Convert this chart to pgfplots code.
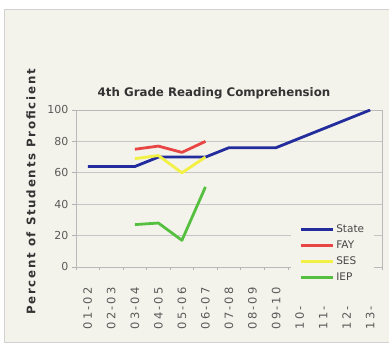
\documentclass[border=0pt]{standalone}
\usepackage{fontspec}
\setmainfont{DejaVu Sans}
\newfontfamily\tickfont[LetterSpace=18]{DejaVu Sans}
\newfontfamily\ylabfont[LetterSpace=15]{DejaVu Sans}
\usepackage{pgfplots}
\pgfplotsset{compat=1.18}
\definecolor{bg}{HTML}{F4F3EB}
\definecolor{cState}{HTML}{232C9C}
\definecolor{cFAY}{HTML}{E84545}
\definecolor{cSES}{HTML}{F2F045}
\definecolor{cIEP}{HTML}{55C040}
\definecolor{tick}{HTML}{5A5A5A}
\begin{document}
\begin{tikzpicture}[x=1pt,y=1pt]
\useasboundingbox (0,0) rectangle (389,344);
\fill[white] (0,0) rectangle (389,344);
\fill[bg] (4,2) rectangle (389,335);
\draw[gray!35, line width=0.8pt] (4,2) rectangle (392,335);
\node[font=\bfseries\fontsize{11.8}{13}\selectfont, text=black!80] at (214,251) {4th Grade Reading Comprehension};
\node[font=\ylabfont\bfseries\fontsize{11.8}{13}\selectfont, text=black!80, rotate=90] at (31,152) {Percent of Students Proficient};
\begin{axis}[
  at={(76pt,77pt)}, anchor=south west,
  scale only axis, width=306pt, height=157pt,
  xmin=-0.5, xmax=12.5, ymin=0, ymax=100,
  axis background/.style={fill=bg},
  axis line style={draw=gray!55, line width=0.8pt},
  ytick={0,20,...,100},
  ymajorgrids, grid style={draw=gray!45, line width=0.8pt},
  tick style={draw=gray!60, line width=0.6pt},
  ytick pos=left, xtick pos=bottom,
  tick align=outside,
  major tick length=4pt,
  yticklabel style={font=\fontsize{11}{12}\selectfont, text=tick},
  /pgf/number format/assume math mode=true,
  xtick={0,...,12},
  xticklabels={01-02,02-03,03-04,04-05,05-06,06-07,07-08,08-09,09-10,10-,11-,12-,13-},
  xticklabel style={font=\tickfont\fontsize{11.5}{12}\selectfont, text=tick, rotate=90, anchor=east, text width=46pt, align=left, inner sep=0pt},
  xticklabel shift=12pt,
  major x tick style={draw=none},
  minor xtick={-0.5,0.5,...,12.5},
  minor tick length=3pt,
  minor x tick style={draw=gray!60, line width=0.6pt},
  legend style={at={(0.703,0.31)}, anchor=north west, fill=bg, draw=none,
    font=\fontsize{10.5}{12}\selectfont, text=black!72,
    row sep=2.8pt, inner xsep=8pt, inner ysep=4pt},
  legend cell align=left,
  legend image code/.code={\draw[#1, line width=3pt] (0pt,0pt) -- (32pt,0pt);},
  every axis plot/.append style={line width=2.8pt, line join=round},
]
\addplot[cState] coordinates {(0,64) (1,64) (2,64) (3,70) (4,70) (5,70) (6,76) (7,76) (8,76) (9,82) (10,88) (11,94) (12,100)};
\addlegendentry{State}
\addplot[cFAY] coordinates {(2,75) (3,77) (4,73) (5,80)};
\addlegendentry{FAY}
\addplot[cSES] coordinates {(2,69) (3,71) (4,60) (5,70)};
\addlegendentry{SES}
\addplot[cIEP] coordinates {(2,27) (3,28) (4,17) (5,51)};
\addlegendentry{IEP}
\end{axis}
\end{tikzpicture}
\end{document}
